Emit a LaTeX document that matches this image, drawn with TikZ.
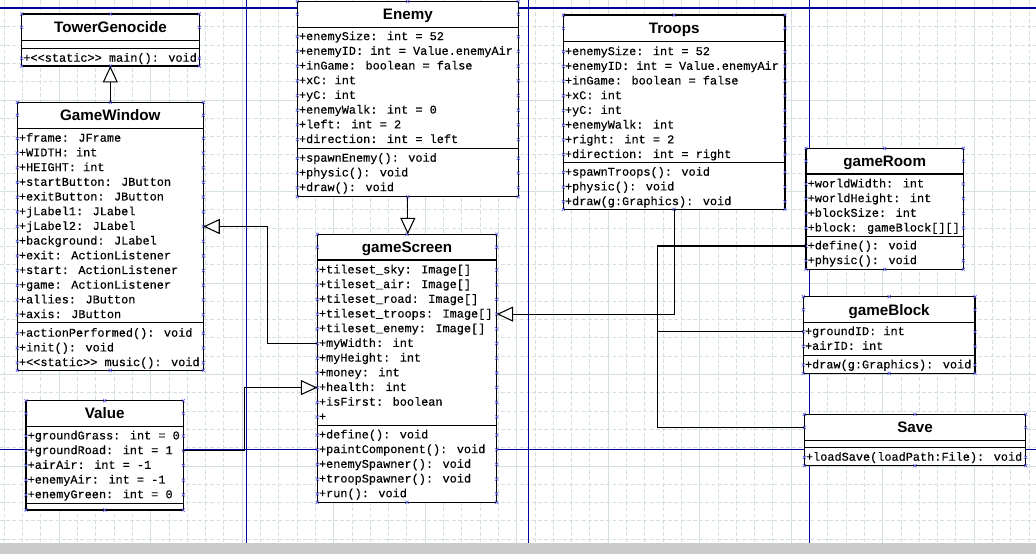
\documentclass[tikz,border=0pt]{standalone}
\usepackage{fontspec}
\usetikzlibrary{arrows.meta,fit}
\newfontfamily\umlmono{Liberation Mono}[Ligatures=TeXOff, FakeBold=0.4]
\newfontfamily\umlsans{Liberation Sans}

\definecolor{gridc}{RGB}{212,224,224}
\definecolor{pageblue}{RGB}{0,0,160}
\definecolor{handlec}{RGB}{90,90,235}
\definecolor{stripgray}{RGB}{204,204,204}

\tikzset{
  classbox/.style={draw=black, fill=white, line width=0.85pt, inner sep=0pt, outer sep=0pt},
  compline/.style={draw=black, line width=0.85pt},
  titletext/.style={font=\umlsans\bfseries\fontsize{10.8pt}{12pt}\selectfont, inner sep=0pt, text height=7.7pt, text depth=0pt},
  rowtext/.style={font=\umlmono\fontsize{8.45pt}{10pt}\selectfont, anchor=west, inner sep=0pt, text height=4.8pt, text depth=0pt},
  gen/.style={draw=black, line width=0.75pt, -{Triangle[length=11.7pt, width=10.7pt, fill=white]}},
  link/.style={draw=black, line width=0.75pt},
  handle/.style={draw=handlec, line width=0.4pt},
  gridminor/.style={draw=gridc, line width=0.7pt, dash pattern=on 2.8pt off 1.6pt},
  gridmajor/.style={draw=gridc, line width=0.7pt},
  pageline/.style={draw=pageblue, line width=0.75pt},
}

% small selection handle
\newcommand\hmark[1]{\draw[handle] (#1) ++(-1.6,-1.6) -- ++(3.2,3.2) ++(0,-3.2) -- ++(-3.2,3.2);}

% class box: name, x1, y1, x2, y2, title separator, attribute separator, title
\newcommand\umlclass[8]{%
  \node[classbox, fit={(#2,#3) (#4,#5)}] (#1) {};
  \draw[compline] (#2,#6) -- (#4,#6) (#2,#7) -- (#4,#7);
  \pgfmathsetmacro\umlcx{(#2+#4)/2}
  \pgfmathsetmacro\umlty{(#3+#6)/2}
  \node[titletext] (#1-t) at (\umlcx,\umlty) {#8};
  \hmark{#2,#3} \hmark{\umlcx,#3} \hmark{#4,#3}
  \hmark{#2,#5} \hmark{\umlcx,#5} \hmark{#4,#5}
  \hmark{#2,\umlty} \hmark{#4,\umlty}
}

% compartment rows: name, prefix, x1, x2, first y, list
\newcommand\umlrows[6]{%
  \foreach \txt [count=\i] in {#6} {
    \pgfmathsetmacro\umlry{#5+(\i-1)*14.7}
    \node[rowtext] (#1-#2\i) at (#3+1.4,\umlry) {\txt};
    \hmark{#3,\umlry} \hmark{#4,\umlry}
  }%
}

\begin{document}
\begin{tikzpicture}[x=0.025cm, y=-0.025cm]
\useasboundingbox (0,0) rectangle (1036,554);
\fill[white] (0,0) rectangle (1036,554);

% editor grid
\foreach \k in {-3,...,53}{
  \pgfmathsetmacro\gx{59.2+18.3*\k}
  \pgfmathtruncatemacro\gm{mod(\k+100,5)}
  \ifnum\gm=0 \draw[gridmajor] (\gx,0) -- (\gx,542.5); \else \draw[gridminor] (\gx,0) -- (\gx,542.5); \fi
}
\foreach \k in {0,...,29}{
  \pgfmathsetmacro\gy{8.5+18.3*\k}
  \pgfmathtruncatemacro\gm{mod(\k,5)}
  \ifnum\gm=0 \draw[gridmajor] (0,\gy) -- (1036,\gy); \else \draw[gridminor] (0,\gy) -- (1036,\gy); \fi
}

% page borders
\draw[pageline] (0,8) -- (1036,8);
\draw[pageline] (0,449.3) -- (1036,449.3);
\foreach \px in {246.5,528.2,809.3} \draw[pageline] (\px,0) -- (\px,542.5);

\fill[stripgray] (0,542.5) rectangle (1036,554);

% classes
\umlclass{tg}{21.7}{14}{199.3}{66}{40.7}{48.3}{TowerGenocide}
\umlrows{tg}{m}{21.7}{199.3}{58.3}{+<<static>> main(): void}

\umlclass{gw}{17.3}{102.3}{203.3}{370.3}{128.3}{322.7}{GameWindow}
\umlrows{gw}{a}{17.3}{203.3}{138.3}{+frame: JFrame,+WIDTH: int,+HEIGHT: int,+startButton: JButton,+exitButton: JButton,+jLabel1: JLabel,+jLabel2: JLabel,+background: JLabel,+exit: ActionListener,+start: ActionListener,+game: ActionListener,+allies: JButton,+axis: JButton}
\umlrows{gw}{m}{17.3}{203.3}{333.3}{+actionPerformed(): void,+init(): void,+<<static>> music(): void}

\umlclass{va}{26}{400.7}{183.3}{510}{426.3}{503.3}{Value}
\umlrows{va}{a}{26}{183.3}{436}{+groundGrass: int = 0,+groundRoad: int = 1,+airAir: int = -1,+enemyAir: int = -1,+enemyGreen: int = 0}

\umlclass{en}{297.3}{1.5}{518.3}{196.7}{27.3}{148.3}{Enemy}
\umlrows{en}{a}{297.3}{518.3}{36.7}{+enemySize: int = 52,+enemyID: int = Value.enemyAir,+inGame: boolean = false,+xC: int,+yC: int,+enemyWalk: int = 0,+left: int = 2,+direction: int = left}
\umlrows{en}{m}{297.3}{518.3}{158.3}{+spawnEnemy(): void,+physic(): void,+draw(): void}

\umlclass{gs}{317.3}{234.3}{496.7}{502.3}{260}{425.7}{gameScreen}
\umlrows{gs}{a}{317.3}{496.7}{270}{+tileset\_sky: Image[],+tileset\_air: Image[],+tileset\_road: Image[],+tileset\_troops: Image[],+tileset\_enemy: Image[],+myWidth: int,+myHeight: int,+money: int,+health: int,+isFirst: boolean,+}
\umlrows{gs}{m}{317.3}{496.7}{435}{+define(): void,+paintComponent(): void,+enemySpawner(): void,+troopSpawner(): void,+run(): void}

\umlclass{tr}{563.3}{15}{785}{209.3}{41.7}{162.7}{Troops}
\umlrows{tr}{a}{563.3}{785}{51.7}{+enemySize: int = 52,+enemyID: int = Value.enemyAir,+inGame: boolean = false,+xC: int,+yC: int,+enemyWalk: int,+right: int = 2,+direction: int = right}
\umlrows{tr}{m}{563.3}{785}{172.3}{+spawnTroops(): void,+physic(): void,+draw(g:Graphics): void}

\umlclass{gr}{806}{148.3}{963.3}{269.3}{174}{236.7}{gameRoom}
\umlrows{gr}{a}{806}{963.3}{184}{+worldWidth: int,+worldHeight: int,+blockSize: int,+block: gameBlock[][]}
\umlrows{gr}{m}{806}{963.3}{246}{+define(): void,+physic(): void}

\umlclass{gb}{803.3}{296.7}{975}{373.3}{322.7}{355.7}{gameBlock}
\umlrows{gb}{a}{803.3}{975}{331.7}{+groundID: int,+airID: int}
\umlrows{gb}{m}{803.3}{975}{365}{+draw(g:Graphics): void}

\umlclass{sv}{804.3}{414.3}{1025.7}{465.7}{440.7}{447.7}{Save}
\umlrows{sv}{m}{804.3}{1025.7}{457.3}{+loadSave(loadPath:File): void}

% relations
\draw[gen] (gw.north) -- (gw.north |- tg.south);
\draw[gen] (en.south) -- (en.south |- gs.north);
\draw[gen] (gs.west |- gs-a6) -- ++(-50,0) |- (gw.east |- gw-a7);
\draw[gen] (va.east |- va-a2) -- ++(61,0) |- (gs.west |- gs-a9);
\draw[gen] (tr.south) |- (gs.east |- gs-a4);
\coordinate (jn) at (657.7,0 |- gs-a4);
\draw[link] (gr.west |- gr-m1) -| (jn);
\draw[link] (gb.west |- gb-a1) -| (jn);
\draw[link] (sv.west |- sv-t) -| (jn);
\end{tikzpicture}
\end{document}
